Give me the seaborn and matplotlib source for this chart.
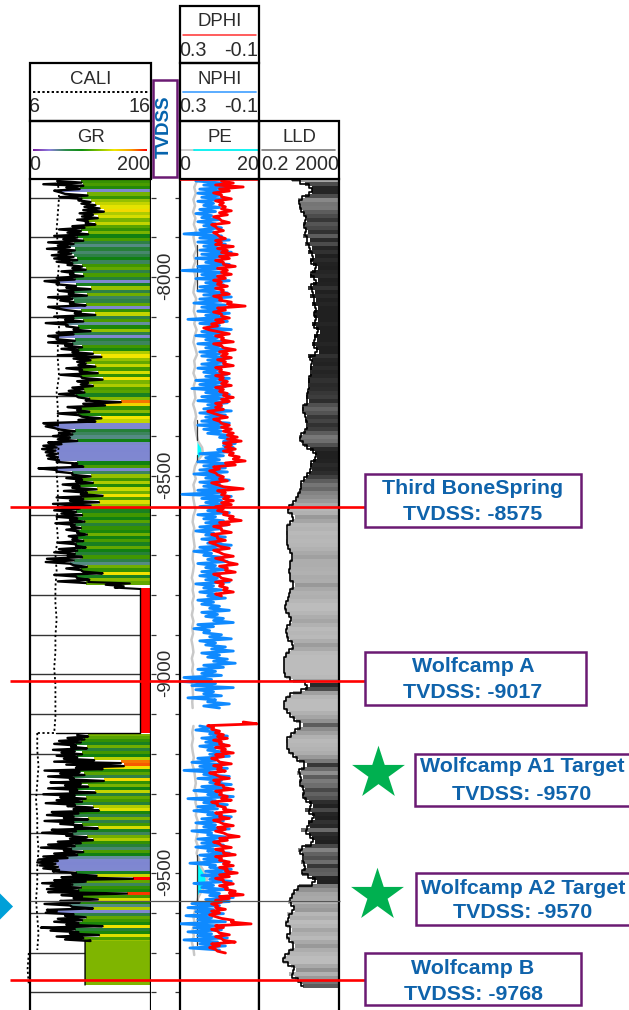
import numpy as np
import matplotlib
matplotlib.use("Agg")
import matplotlib.pyplot as plt
from matplotlib.colors import LinearSegmentedColormap, LogNorm, Normalize
from matplotlib.patches import Rectangle
import seaborn as sns

W, H = 629, 1010
sns.set_style("white")
plt.rcParams["font.family"] = ["Liberation Sans", "DejaVu Sans"]

# ---------------- values ----------------
# GR: value at the fill edge and the leftmost reach of the curve, per depth sample
gr_upper = [85,88,82,50,95,85, 100,108,115,122,104,112,96,108, 90,84,96,78,88,
            72,66,74,68,72,78,70, 86,92,72,88,74, 48,76,100,72,94,70,
            72,92,46,84,108,72, 88,62,80,100,72,46, 74,70,86,80,104,
            118,100,92,108,86,112,84,120,96,104,88,
            90,76,98,150,124,84,98,80,118,108,46,40,74,70,
            66,78,52,44,42,44,46,48,78,88,44,70,100,86,104,82,
            110,94,120,88,114,100,
            82,76,86,78,90,74,84,80,94,78,88,76,92,78,74,86,72,66,94,84,120,76,98,92]
gr_upper_left = [45,22,60,40,58,50, 80,85,90,88,82,86,78,92, 70,48,62,40,55,
                 30,46,28,48,36,40,44, 62,70,52,66,44, 24,44,60,48,64,30,
                 50,66,30,60,74,40, 58,26,60,72,44,30, 44,30,58,52,70,
                 46,72,78,80,60,82,50,86,78,84,70,
                 64,48,80,92,88,62,78,46,86,80,22,26,50,48,
                 38,46,30,22,20,26,28,30,44,70,14,44,70,60,76,54,
                 70,56,84,44,66,38,
                 46,40,52,44,66,42,68,60,78,64,70,46,76,48,40,62,28,26,72,60,88,40,78,46]
gr_lower = [96,90,84,76,94,74,86,78,
            106,150,155,120,82,90,72,122,84,
            96,78,108,74,92,86,74,104,114,80,72,96,
            72,86,112,76,70,94,104,84,74,68,88,78,62,
            46,42,46,48,76,110,170,92,70,84,80,160,
            86,112,82,66,104,44,72,92,86,80,120,74,80,114,88,100]
gr_lower_left = [78,62,48,40,68,38,52,44,
                 56,40,60,76,24,50,30,66,34,
                 58,30,66,22,50,44,26,62,72,36,28,56,
                 24,50,74,36,20,60,66,46,30,18,56,40,22,
                 14,12,16,22,38,70,52,40,20,34,28,30,
                 52,72,50,24,70,28,26,58,46,40,60,18,34,66,44,58]
gr_cut = [96,165,125,155,140,182]
gr_gap = 182
gr_gap_end = 43
gr_base = 91

cali_upper = [8.3,8.4,8.3,8.2,8.3,8.4,8.3,8.3,8.2,8.4,8.3,8.3,8.4,8.2,8.3,8.3,8.4,8.3,8.2,8.3,
              8.3,8.2,8.3,8.1,8.2,8.1,8.1,8.2,8.1,8.1,8.0,8.1,8.1,8.1,8.0]
cali_lower = [6.6,6.6,6.7,6.6,6.5,6.6,6.6,6.7,6.6,6.6,6.5,6.6,6.7,6.6]
cali_base = [5.9,5.8,5.9]

# NPHI: left and right reach of the curve per depth sample
nphi_up_hi = [.22,.18,.20,.21,.19, .21,.18,.20,.22,.19,.21,.18,.20,
              .28,.20,.21,.18,.20,.19,.22,.17,.21,
              .29,.19,.22,.17,.20,.21,.18,.20,.23,
              .19,.21,.17,.26,.20,.16,.19,.22,.17,
              .21,.17,.20,.19,.16,.19,.21,.18,.17,.22,
              .20,.24,.17,.19,.21,.16,.18,.20,.17,.19,
              .21,.18,.16,.10,.08,.08,.11,.20,.17,.21,.18,
              .20,.23,.17,.20,.18,.21,.29,
              .19,.17,.20,.16,.21,.18,.17,.20,.22,.17,.19,.16,.20,.23,.18,.16,.21,.17,.19,.20,.17,.22,
              .18,.20,.16,.21,.19,.15,.19,.17,.13,.21,.23,.18,.15,.20,.17,.14,.19,.16,.13,.18,.21,.19,
              .28,.29,.24,.22,.18,.26,.16,.18]
nphi_up_lo = [.08,.06,.09,.10,.07, .13,.10,.12,.14,.10,.12,.09,.13,
              .09,.05,.07,.10,.04,.06,.09,.05,.08,
              .07,.10,.05,.08,.11,.06,.04,.09,.07,
              .08,.05,.09,.06,.10,.04,.08,.11,.07,
              .09,.06,.10,.05,.08,.07,.11,.06,.05,.09,
              .07,.10,.05,.08,.06,.09,.04,.07,.10,.05,
              .06,.09,.05,.03,.02,.03,.04,.08,.10,.05,.07,
              .06,.09,.05,.10,.07,.08,.04,
              .09,.07,.10,.05,.12,.08,.06,.10,.13,.07,.09,.04,.11,.14,.08,.06,.12,.07,.10,.11,.05,.13,
              .09,.12,.07,.13,.10,.05,.11,.08,.03,.13,.15,.09,.04,.12,.07,.03,.10,.06,.02,.08,.12,.09,
              .14,.12,.03,.13,.09,.12,.05,.10]
nphi_lo_hi = [.20,.22,.15,.19,.17,.20,.16,.15,.21,
              .24,.20,.28,.18,.21,.15,.19,.23,.16,.26,
              .18,.21,.23,.16,.19,.22,.18,.24,.16,.21,
              .19,.22,.16,.20,.18,.25,.15,.17,.19,.15,
              .23,.19,.20,.15,.17,
              .24,.26,.22,.27,.21,.30,.23,.26,.21,.28,.20,.25]
nphi_lo_lo = [.14,.12,.06,.10,.08,.12,.07,.05,.12,
              .10,.06,.12,.05,.09,.04,.08,.11,.03,.12,
              .06,.11,.13,.04,.08,.12,.05,.14,.07,.10,
              .08,.13,.05,.10,.07,.12,.04,.06,.09,.04,
              .13,.07,.10,.03,.05,
              .10,.13,.08,.14,.07,.12,.09,.14,.06,.11,.07,.10]

# DPHI: right and left reach of the curve per depth sample
dphi_upper = [.03,-.02,.05,.09,.04,.08, .07,.04,.06,.10,.05,.12,.08,.11,.07,.09,
              .03,.06,.01,.05,.08,.02,.06,.04,.07,.09,
              .06,.08,.05,.09,.04,-.03,.07,.09,.05,.08,
              .11,.15,.05,.08,.03,.09,.02,.06,.04,
              .07,.03,.09,.05,.08,.06,.04,.08,.06,.03,
              .05,.09,.08,.13,.06,.10,.05,.04,.03,.01,
              -.01,.04,.02,.03,.00,-.03,.02,.10,.12,.08,.06,
              .11,-.02,.07,.05,.03,.04,.08,
              .06,.03,-.01,.05,.09,.04,.11,.07,.12,.05,.10,.03,.08,.01,.06,.02,.10,.04,.08,.06,.03,.09]
dphi_upper_hi = [.09,.12,.10,.13,.09,.12, .10,.09,.10,.13,.09,.14,.11,.13,.10,.12,
                 .12,.11,.09,.10,.12,.08,.11,.09,.11,.13,
                 .11,.12,.09,.13,.10,.06,.11,.13,.09,.12,
                 .14,.18,.10,.12,.09,.13,.08,.10,.09,
                 .11,.08,.12,.10,.12,.10,.09,.12,.10,.08,
                 .09,.12,.12,.16,.10,.13,.09,.09,.08,.06,
                 .06,.08,.07,.08,.05,.03,.07,.13,.15,.11,.10,
                 .14,.08,.11,.09,.08,.09,.12,
                 .11,.08,.05,.10,.13,.09,.14,.11,.15,.10,.13,.08,.12,.06,.10,.07,.13,.09,.12,.10,.08,.12]
dphi_lower = [-.09,.13,.10,.08,.06,.09,.05,.07,.03,.08,.11,
              .04,.09,.07,.12,.05,.10,.08,.03,.09,.06,
              .04,.11,.07,.02,.09,.05,.10,.03,.07,.08,
              .00,.06,.10,.04,.08,.02,.09,.05,.03,.06,
              .01,.05,.08,.03,.06,.02,-.02,.05,.09,.11,
              .07,.10,.12,.03,-.06,.08,.11,.05,.09,.02,.10,.12,.07]
dphi_lower_hi = [-.02,.16,.14,.12,.11,.13,.10,.12,.09,.12,.14,
                 .10,.13,.11,.15,.10,.13,.12,.08,.12,.10,
                 .09,.14,.11,.08,.12,.10,.13,.08,.11,.12,
                 .06,.10,.13,.09,.12,.08,.12,.10,.08,.10,
                 .07,.10,.12,.08,.10,.07,.05,.10,.12,.14,
                 .12,.14,.15,.09,.04,.12,.14,.10,.12,.08,.14,.15,.11]

pe_upper = [4.3,3.6,4.0,3.4,3.8,3.3,3.9,3.5,4.1,3.4,3.7,4.2,3.5,3.9,3.3,3.8,4.0,3.6,3.4,4.1,
            3.7,3.5,4.0,3.6,4.2,3.7,3.4,3.9,4.3,3.6,3.8,3.4,4.0,3.5,3.7,3.9,3.3,3.8,4.1,3.7,
            3.9,4.2,4.6,5.6,5.8,4.6,3.8,3.5,4.0,3.4,3.7,3.3,3.6,3.9,3.4,3.2,3.6,3.3,3.5,3.7,
            3.3,3.2,3.5,3.3,3.0,3.4,3.2,3.5,3.1,3.3,3.0,3.4,3.1,3.3,2.9,3.2,3.4,3.0,3.3,3.1,3.4,3.0,3.2,3.3,3.1,3.2]
pe_lower = [3.4,3.1,3.3,3.0,3.2,3.5,3.1,3.6,3.8,4.0,3.7,4.2,3.9,4.3,4.0,4.5,4.2,4.4,4.0,4.6,
            4.2,4.8,5.2,6.2,6.8,6.6,5.4,4.6,4.2,3.8,3.4,3.7,3.2,3.5,3.0,3.4,3.6]
pe_base = 4.3

lld = [9,38,85,85,38, 17,22,21,30,38,50,33,40,54,
       30,68,38,85,54,122,68,100,170,85,
       68,170,100,54,122,75,140,85,170,110,
       110,170,85,140,218,110,150,85,140,190,
       54,85,100,68,90,75,54,68,60,50,
       46,60,36,28,34,50,42,54,46,30,
       21,24,36,70,120,150,100,68,85,60,
       44,30,22,26,18,16,12,8,
       5,6,12,9,5,5.5,4.5,5,4.7,5,6,8,10,7,7,6.5,6,7.5,7,12,8,6,
       6.5,5,4,3.6,5,7,9,6,4.3,5,4.5,7,11,8,4.5,4,3.5,3.4,3.5,3.7,4.5,
       10,68,38,10,5,4,3.5,4,6,9,14,30,
       16,10,6,4.5,5,5.5,7,12,20,
       50,25,15,30,20,24,40,28,34,60,
       100,40,85,130,54,75,25,60,90,120,
       40,18,28,36,24,50,30,28,90,160,
       20,14,9,8,5.5,10,12,5,7,4,
       5,9,6,4.5,8,12,7,5,3.3,3.0,
       8,14,6,12,22,30]

depth_ticks = list(range(-7800, -9900, -100))
depth_labels = [-8000, -8500, -9000, -9500]
top_depths = [-8580, -9017, -9768]
target_line = -9570

callouts = [("Third BoneSpring\nTVDSS: -8575", 365, 474, 581, 527, 473, 488, 514),
            ("Wolfcamp A\nTVDSS: -9017", 365, 652, 586, 705, 473, 667, 693),
            ("Wolfcamp A1 Target\nTVDSS: -9570", 415, 754, 631, 806, 522, 767, 794),
            ("Wolfcamp A2 Target\nTVDSS: -9570", 416, 873, 631, 925, 523, 888, 913),
            ("Wolfcamp B\nTVDSS: -9768", 365, 953, 581, 1005, 473, 968, 994)]
stars = [(378, 773), (377, 895)]

headers = [("DPHI", 180, 6, 259, 63, "0.3", "-0.1"),
           ("NPHI", 180, 63, 259, 121, "0.3", "-0.1"),
           ("PE", 180, 121, 259, 179, "0", "20"),
           ("CALI", 30, 63, 151, 121, "6", "16"),
           ("GR", 30, 121, 151, 179, "0", "200"),
           ("LLD", 259, 121, 339, 179, "0.2", "2000")]

# ---------------- scales ----------------
PX_PER_FT = 0.3974
y2d = lambda y: -8000 - (y - 277) / PX_PER_FT
rect = lambda x0, y0, x1, y1: [x0 / W, 1 - y1 / H, (x1 - x0) / W, (y1 - y0) / H]
YTOP, YBOT = 179, 1010

gr_cmap = LinearSegmentedColormap.from_list("gr", [
    (0.00, "#7b7fd8"), (0.25, "#7f88d0"), (0.32, "#5f8f95"), (0.36, "#2f8048"),
    (0.39, "#0f800f"), (0.43, "#3f9600"), (0.47, "#6fae00"), (0.53, "#b8d000"),
    (0.59, "#f2e800"), (0.68, "#f0a800"), (0.76, "#f57000"), (0.84, "#ff0000"), (1.0, "#ff0000")])
gr_norm = Normalize(0, 200)
lld_cmap = LinearSegmentedColormap.from_list("lld", [
    (0.0, "#bcbcbc"), (0.22, "#a8a8a8"), (0.42, "#8c8c8c"), (0.62, "#5a5a5a"),
    (0.8, "#2e2e2e"), (1.0, "#202020")])
lld_norm = LogNorm(4, 110)

fig = plt.figure(figsize=(W / 100, H / 100), dpi=100, facecolor="white")


def track(x0, x1):
    ax = fig.add_axes(rect(x0, YTOP, x1, YBOT))
    ax.set_ylim(y2d(YBOT), y2d(YTOP))
    ax.set_xticks([]); ax.set_yticks([])
    for s in ax.spines.values():
        s.set_linewidth(1.6); s.set_color("black")
    ax.spines["top"].set_visible(False); ax.spines["bottom"].set_visible(False)
    return ax


def twin(ax, lo, hi):
    t = ax.twiny()
    t.set_xlim(lo, hi)
    t.set_xticks([])
    for s in t.spines.values():
        s.set_visible(False)
    t.patch.set_alpha(0)
    return t


def curve(ax, x, y, color, lw, **kw):
    sns.lineplot(x=np.asarray(x, float), y=np.asarray(y, float), orient="y", sort=False,
                 estimator=None, color=color, linewidth=lw, ax=ax, legend=False, **kw)
    ax.set_xlabel(""); ax.set_ylabel("")


def zigzag(ax, a, b, y0, y1, color, lw, **kw):
    """Curve that swings between the two reaches read at each depth sample."""
    x = np.ravel(np.column_stack([a, b]))
    curve(ax, x, np.linspace(y2d(y0), y2d(y1), len(x)), color, lw, **kw)


def bands(ax, x, y, right, colors):
    h = abs(y[1] - y[0])
    ax.barh(y, np.asarray(right) - np.asarray(x), left=x, height=h, color=colors,
            linewidth=0, antialiased=False, zorder=2)


# ---- GR / CALI ----
ax_gr = track(30, 151)
ax_gr.set_xlim(0, 200)
ax_gr.set_yticks(depth_ticks); ax_gr.set_yticklabels([])
ax_gr.tick_params(length=0)
ax_gr.set_axisbelow(True)
ax_gr.grid(axis="y", color="#333333", lw=1.0)
d_up = np.linspace(y2d(181), y2d(583), len(gr_upper))
d_lo = np.linspace(y2d(735), y2d(941), len(gr_lower))
for g, d in ((gr_upper, d_up), (gr_lower, d_lo)):
    bands(ax_gr, g, d, 200, gr_cmap(gr_norm(np.array(g, float))))
d_gap0, d_gap1 = y2d(588), y2d(733)
ax_gr.barh((d_gap0 + d_gap1) / 2, 200 - gr_gap, left=gr_gap, height=d_gap0 - d_gap1,
           color=gr_cmap(gr_norm(gr_gap)), linewidth=0, zorder=2)
d_b0, d_b1 = y2d(941), y2d(985)
ax_gr.barh((d_b0 + d_b1) / 2, 198 - gr_base, left=gr_base, height=d_b0 - d_b1,
           color="#7fb500", linewidth=0, zorder=2)
zigzag(ax_gr, gr_upper_left, gr_upper, 181, 583, "black", 1.7, zorder=3)
zigzag(ax_gr, gr_lower_left, gr_lower, 735, 941, "black", 1.7, zorder=3)
curve(ax_gr, gr_cut, np.linspace(y2d(582), y2d(589), len(gr_cut)), "black", 1.5, zorder=3)
curve(ax_gr, [gr_gap, gr_gap, gr_gap_end], [d_gap0, d_gap1, d_gap1], "black", 1.0, zorder=3)
curve(ax_gr, [gr_lower[-1], gr_base, gr_base], [d_b0 + 3, d_b0, d_b1], "black", 1.0, zorder=3)
ax_gr.set_xlim(0, 200)

ax_c = twin(ax_gr, 6, 16)
dots = (0, (1.2, 1.4))
curve(ax_c, cali_upper, np.linspace(y2d(181), y2d(733), len(cali_upper)), "black", 1.3, linestyle=dots, zorder=4)
curve(ax_c, [cali_upper[-1], cali_lower[0]], [y2d(733)] * 2, "black", 1.3, linestyle=dots, zorder=4)
curve(ax_c, cali_lower, np.linspace(y2d(733), y2d(950), len(cali_lower)), "black", 1.3, linestyle=dots, zorder=4)
curve(ax_c, cali_base, np.linspace(y2d(953), y2d(985), len(cali_base)), "black", 1.3, linestyle=dots, zorder=4)
for ln in ax_c.get_lines():
    ln.set_clip_on(False)
ax_c.set_xlim(6, 16)
ax_c.set_ylim(y2d(YBOT), y2d(YTOP))

# ---- depth track ----
ax_d = track(151, 180)
ax_d.set_xlim(0, 1)
ax_d.spines["left"].set_visible(False); ax_d.spines["right"].set_visible(False)
ax_d.set_yticks(depth_ticks); ax_d.set_yticklabels([])
ax_d.tick_params(axis="y", direction="in", left=True, right=True, length=3.5, width=0.9, color="#333333")
for v in depth_labels:
    ax_d.text(0.5, v + 3, str(v), rotation=90, ha="center", va="center", fontsize=13.5, color="#2b2b2b")

# ---- PE / NPHI / DPHI ----
ax_pe = track(180, 259)
ax_pe.set_xlim(0, 20)
p_up = np.linspace(y2d(181), y2d(708), len(pe_upper))
p_lo = np.linspace(y2d(726), y2d(955), len(pe_lower))
for p, d in ((pe_upper, p_up), (pe_lower, p_lo)):
    arr = np.array(p)
    ax_pe.fill_betweenx(d, pe_base, arr, where=arr > pe_base, color="#00ffff", linewidth=0, zorder=2)
    curve(ax_pe, p, d, "#c8c8c8", 1.8, zorder=3)
for y0, y1 in ((245, 290), (420, 440), (455, 462), (855, 945)):
    curve(ax_pe, [pe_base, pe_base], [y2d(y0), y2d(y1)], "#333333", 0.9, zorder=3)
ax_pe.set_xlim(0, 20)
ax_n = twin(ax_pe, 0.3, -0.1)
zigzag(ax_n, nphi_up_hi, nphi_up_lo, 181, 708, "#0f8aff", 2.0)
zigzag(ax_n, nphi_lo_hi, nphi_lo_lo, 726, 950, "#0f8aff", 2.0)
ax_n.set_xlim(0.3, -0.1); ax_n.set_ylim(y2d(YBOT), y2d(YTOP))
ax_dp = twin(ax_pe, 0.3, -0.1)
zigzag(ax_dp, dphi_upper_hi, dphi_upper, 181, 596, "#ff0000", 2.0)
zigzag(ax_dp, dphi_lower_hi, dphi_lower, 722, 953, "#ff0000", 2.0)
curve(ax_dp, [0.3, -0.1], [y2d(180), y2d(180)], "#ff0000", 1.2)
ax_dp.set_xlim(0.3, -0.1); ax_dp.set_ylim(y2d(YBOT), y2d(YTOP))

# ---- LLD ----
ax_l = track(259, 339)
ax_l.set_xscale("log")
ax_l.set_xlim(0.2, 2000)
ax_l.minorticks_off(); ax_l.set_xticks([])
d_l = np.linspace(y2d(180), y2d(986), len(lld))
bands(ax_l, lld, d_l, 2000, lld_cmap(lld_norm(np.clip(lld, 4, 110))))
curve(ax_l, lld, d_l, "black", 1.2, zorder=3, drawstyle="steps-mid")
ax_l.set_xlim(0.2, 2000)
ax_l.minorticks_off(); ax_l.set_xticks([])

# ---- overlay in depth units: tops ----
ov_d = fig.add_axes([0, 0, 1, 1], zorder=10)
ov_d.patch.set_alpha(0); ov_d.axis("off")
ov_d.set_xlim(0, W); ov_d.set_ylim(y2d(H), y2d(0))
ov_d.hlines(target_line, 30, 340, color="#555555", lw=0.9, zorder=1)
ov_d.hlines(top_depths, 10, 365, color="#ff0000", lw=1.9, zorder=2)

# ---- overlay in pixels: headers, labels ----
ov = fig.add_axes([0, 0, 1, 1], zorder=11)
ov.patch.set_alpha(0); ov.axis("off")
TXT = "#2b2b2b"
rainbow = LinearSegmentedColormap.from_list("rb", ["#7a1fa0", "#8f7fe0", "#2f8f4f", "#0f8f0f",
                                                   "#7fc000", "#f0e800", "#f8a000", "#ff0000"])
for name, x0, y0, x1, y1, lo, hi in headers:
    xc = (x0 + x1) / 2
    ov.text(xc, y0 + 16, name, ha="center", va="center", fontsize=13.4, color=TXT)
    ov.text(x0 - 1 if name != "LLD" else x0 + 2, y0 + 44, lo, ha="left", va="center", fontsize=14.2, color=TXT)
    ov.text(x1 - 0.5, y0 + 44, hi, ha="right", va="center", fontsize=14.2, color=TXT)
    ov.add_patch(Rectangle((x0, y0), x1 - x0, y1 - y0, fill=False, ec="black", lw=1.6, zorder=5))
ov.plot([183, 256], [35, 35], color="#ff3030", lw=1.1)
ov.plot([183, 256], [92, 92], color="#4da6ff", lw=1.3)
ov.plot([181, 194], [150, 150], color="#c8c8c8", lw=1.3)
ov.plot([194, 258], [150, 150], color="#00f0f0", lw=1.3)
ov.plot([262, 335], [150, 150], color="#777777", lw=1.2)
ov.plot([33, 148], [92, 92], color="black", lw=1.4, linestyle=(0, (1.2, 1.2)))
ov.imshow(np.linspace(0, 1, 256)[None, :], extent=(33, 147, 151, 149), aspect="auto", cmap=rainbow, zorder=3)
ov.add_patch(Rectangle((153, 80), 24, 97, fill=False, ec="#6b1a73", lw=1.8))
ov.text(164.5, 127, "TVDSS", rotation=90, ha="center", va="center", fontsize=13.5, fontweight="bold", color="#0563ad")

BLUE = "#0f63ab"
for label, x0, y0, x1, y1, xc, yl1, yl2 in callouts:
    ov.add_patch(Rectangle((x0, y0), x1 - x0, y1 - y0, fc="white", ec="#6b1a73", lw=1.8, zorder=4))
    l1, l2 = label.split("\n")
    ov.text(xc, yl1, l1, ha="center", va="center", fontsize=15.4, fontweight="bold", color=BLUE, zorder=5)
    ov.text(xc, yl2, l2, ha="center", va="center", fontsize=15.4, fontweight="bold", color=BLUE, zorder=5)
ov.scatter([s[0] for s in stars], [s[1] for s in stars], marker="*", s=1600, color="#00b050", linewidths=0, zorder=5)
ov.scatter([-1], [906], marker="D", s=190, color="#00a0d8", linewidths=0, zorder=5, clip_on=True)
ov.set_xlim(0, W); ov.set_ylim(H, 0)

fig.savefig("out.png", dpi=100)
